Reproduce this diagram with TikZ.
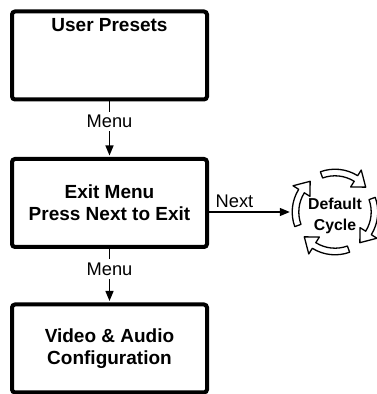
\documentclass[tikz,border=0pt]{standalone}
\usepackage{fontspec}
\setmainfont{Liberation Sans}
\usetikzlibrary{positioning}
\usetikzlibrary{arrows.meta}

\tikzset{
	menubox/.style={draw,line width=4pt,rounded corners=3pt,minimum width=195pt,minimum height=88pt,align=center,font=\fontsize{19}{22}\selectfont\bfseries},
	keylabel/.style={font=\fontsize{18.3}{21}\selectfont},
	cyclearrow/.style={draw,fill=white,line width=1.3pt,line join=round,shorten >=0pt},
}

\begin{document}
\begin{tikzpicture}[x=1pt,y=1pt,shorten >=1.5pt,on grid,auto,>={Triangle[length=10pt,width=8pt]}]
		\useasboundingbox (0,0) rectangle (376,394);
		\node[menubox,text depth=61pt] (user) at (109.5,338.5) {User Presets};
		\node[menubox] (exitm) [below=147.5pt of user] {Exit Menu\\Press Next to Exit};
		\node[menubox] (vidaud) [below=145.5pt of exitm] {Video \& Audio\\Configuration};
		\node[circle,inner sep=0pt,minimum size=87pt] (ring) [below right=9pt and 225.5pt of exitm] {};
		\node[font=\fontsize{15.8}{21}\selectfont\bfseries,align=center] (cycle) [below=4pt of ring] {Default\\Cycle};
		\path[->,line width=1.3pt]
		(user) edge node [keylabel,fill=white,anchor=center,inner sep=3.5pt,pos=0.36] {Menu} (exitm)
		(exitm) edge node [keylabel,fill=white,anchor=center,inner sep=3.5pt,pos=0.37] {Menu} (vidaud)
		(exitm.east |- ring) edge node [keylabel,pos=0.31] {Next} (ring);
		% default cycle, four hollow arrows
		\begin{scope}[shift={(ring.center)}]
		\foreach \a in {110,20,-70,-160}
			\draw[cyclearrow] (\a:42.8) arc[start angle=\a,end angle=\a-52,radius=42.8] -- (\a-52:49.5) -- (\a-71:39.5) -- (\a-52:29.5) -- (\a-52:36.2) arc[start angle=\a-52,end angle=\a,radius=36.2] -- cycle;
		\end{scope}
	\end{tikzpicture}
\end{document}
